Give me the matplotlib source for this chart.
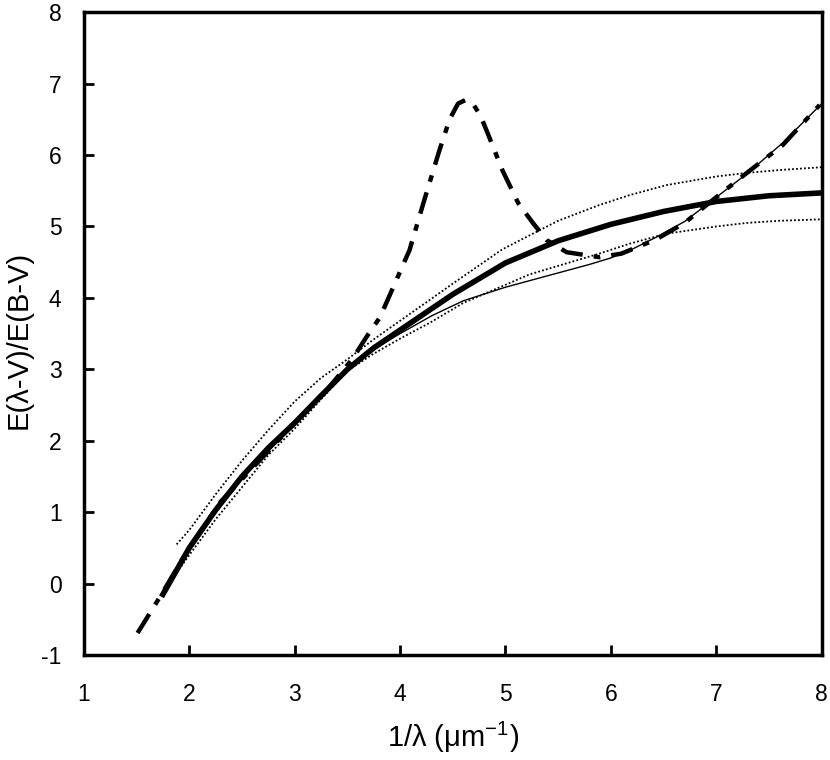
import numpy as np
import matplotlib
matplotlib.use("Agg")
import matplotlib.pyplot as plt

plt.rcParams['font.family'] = ['Liberation Sans', 'DejaVu Sans']
plt.rcParams['mathtext.default'] = 'regular'
plt.rcParams['axes.unicode_minus'] = False

# mean curve (thick solid)
mean_x = [1.75, 2.0, 2.25, 2.5, 2.75, 3.0, 3.25, 3.5, 3.75, 4.0, 4.5, 5.0, 5.5, 6.0, 6.5, 7.0, 7.5, 8.0]
mean_y = [-0.15, 0.5, 1.03, 1.5, 1.9, 2.25, 2.63, 3.0, 3.3, 3.55, 4.05, 4.49, 4.8, 5.03, 5.21, 5.35, 5.43, 5.47]

# upper / lower bounds (dotted)
up_x = [1.88, 2.0, 2.25, 2.5, 2.75, 3.0, 3.25, 3.5, 3.75, 4.0, 4.28, 4.5, 4.97, 5.5, 5.89, 6.18, 6.53, 7.0, 7.29, 7.6, 8.0]
up_y = [0.55, 0.75, 1.25, 1.72, 2.15, 2.55, 2.88, 3.14, 3.42, 3.68, 3.97, 4.2, 4.68, 5.08, 5.3, 5.44, 5.58, 5.7, 5.75, 5.79, 5.83]
lo_x = [1.88, 2.0, 2.25, 2.5, 2.75, 3.0, 3.25, 3.5, 3.75, 4.0, 4.28, 4.6, 5.23, 5.89, 6.18, 6.53, 7.0, 7.29, 7.6, 8.0]
lo_y = [0.15, 0.4, 0.9, 1.35, 1.8, 2.17, 2.58, 2.98, 3.22, 3.43, 3.65, 3.93, 4.33, 4.62, 4.76, 4.9, 5.0, 5.05, 5.08, 5.1]

# thin solid
thin_x = [1.75, 2.0, 2.5, 3.0, 3.5, 3.75, 4.0, 4.3, 4.6, 5.0, 5.25, 5.5, 5.8, 6.0, 6.2, 6.43, 6.7, 6.94, 7.3, 7.63, 8.0]
thin_y = [-0.15, 0.5, 1.48, 2.23, 2.98, 3.28, 3.5, 3.75, 3.96, 4.15, 4.25, 4.35, 4.47, 4.56, 4.68, 4.85, 5.07, 5.34, 5.75, 6.17, 6.72]

# bump curve (dash-dot)
bump_x = [1.51, 1.72, 2.0, 2.3, 2.67, 3.0, 3.3, 3.55, 3.68, 3.81, 3.95, 4.09, 4.23, 4.37, 4.47, 4.55, 4.62, 4.69, 4.76, 4.83,
          4.97, 5.12, 5.26, 5.39, 5.58, 5.89, 6.1, 6.43, 6.7, 6.94, 7.29, 7.63, 7.98]
bump_y = [-0.69, -0.19, 0.5, 1.15, 1.73, 2.25, 2.7, 3.15, 3.45, 3.73, 4.2, 4.67, 5.37, 6.05, 6.5, 6.72, 6.77, 6.72, 6.56, 6.31,
          5.79, 5.33, 5.05, 4.81, 4.64, 4.57, 4.62, 4.82, 5.05, 5.34, 5.75, 6.14, 6.70]

fig = plt.figure(figsize=(8.3, 7.6), dpi=100)
ax = fig.add_axes([0.101, 0.138, 0.889, 0.846])

ax.plot(up_x, up_y, color='black', lw=1.3, linestyle=(0, (1, 1.2)))
ax.plot(lo_x, lo_y, color='black', lw=1.3, linestyle=(0, (1, 1.2)))
ax.plot(thin_x, thin_y, color='black', lw=1.0)
ax.plot(bump_x, bump_y, color='black', lw=3.2, linestyle=(0, (5, 2.5, 1.5, 2.5)))
ax.plot(mean_x, mean_y, color='black', lw=4)

ax.set_xlim(1, 8)
ax.set_ylim(-1, 8)
ax.set_xticks(range(1, 9))
ax.set_yticks(range(-1, 9))
ax.tick_params(direction='in', length=7, width=2, labelsize=16.5)
ax.tick_params(axis='x', pad=20)
ax.tick_params(axis='y', pad=16)
for s in ax.spines.values():
    s.set_linewidth(2.5)

ax.set_xlabel(r'1/λ (μm$^{-1}$)', fontsize=21, labelpad=10)
ax.set_ylabel('E(λ-V)/E(B-V)', fontsize=21)
ax.yaxis.set_label_coords(-0.07, 0.49)

fig.savefig('out.png', dpi=100)
